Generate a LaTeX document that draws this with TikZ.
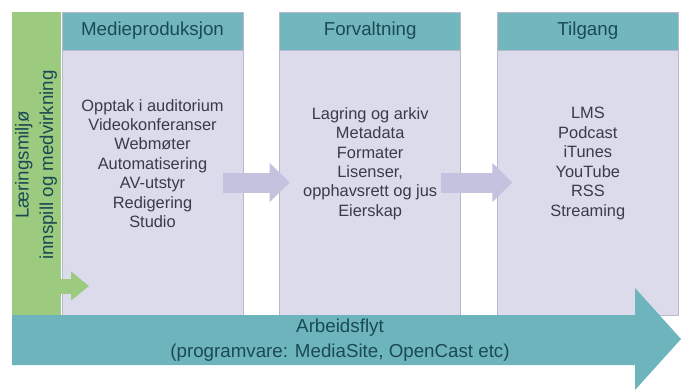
\documentclass[tikz,border=0pt]{standalone}
\usepackage{fontspec}
\setmainfont{Liberation Sans}
\usetikzlibrary{arrows.meta,positioning}
\definecolor{Leaf}{HTML}{9CCB80}
\definecolor{Head}{HTML}{72B7BD}
\definecolor{HeadInk}{HTML}{1B4A55}
\definecolor{Body}{HTML}{DCDBEB}
\definecolor{BodyLine}{HTML}{B9B8CC}
\definecolor{Flow}{HTML}{C4C2DF}
\definecolor{Stream}{HTML}{6DB4BC}
\definecolor{Ink}{HTML}{3A3A48}
\tikzset{
  headbox/.style={draw=BodyLine,fill=Head,minimum width=5.43cm,minimum height=1.14cm,inner sep=0pt,outer sep=0pt,text=HeadInk,font=\fontsize{16}{19}\selectfont},
  bodybox/.style={draw=BodyLine,fill=Body,minimum width=5.43cm,minimum height=7.95cm,inner sep=0pt,outer sep=0pt},
  bodytext/.style={align=center,text=Ink,font=\fontsize{14}{16.6}\selectfont},
  flowarr/.style={-{Triangle[length=0.6cm,width=1.14cm]},line width=0.6cm,draw=Flow},
  leafarr/.style={-{Triangle[length=0.54cm,width=0.84cm]},line width=0.45cm,draw=Leaf}
}
\begin{document}
\begin{tikzpicture}[x=0.03cm,y=-0.03cm]
  \useasboundingbox (0,0) rectangle (681,390);
  \node[fill=Leaf,minimum width=1.47cm,minimum height=9.09cm,inner sep=0pt,outer sep=0pt,anchor=north west] (leaf) at (12,12) {};
  \node[headbox,anchor=north west] (medhead) at (62,12) {Medieproduksjon};
  \node[bodybox,below=0pt of medhead] (medbody) {};
  \node[headbox,right=1.1cm of medhead] (forhead) {Forvaltning};
  \node[bodybox,below=0pt of forhead] (forbody) {};
  \node[headbox,right=1.1cm of forhead] (tilhead) {Tilgang};
  \node[bodybox,below=0pt of tilhead] (tilbody) {};
  \node[bodytext] (medtext) at ([yshift=0.57cm]medbody.center) {Opptak i auditorium\\Videokonferanser\\Webmøter\\Automatisering\\AV-utstyr\\Redigering\\Studio};
  \node[bodytext] (fortext) at ([yshift=0.57cm]forbody.center) {Lagring og arkiv\\Metadata\\Formater\\Lisenser,\\opphavsrett og jus\\Eierskap};
  \node[bodytext] (tiltext) at ([yshift=0.57cm]tilbody.center) {LMS\\Podcast\\iTunes\\YouTube\\RSS\\Streaming};
  \node[rotate=90,align=center,text=HeadInk,font=\fontsize{16}{21}\selectfont] (leaftext) at (36,165) {Læringsmiljø\\innspill og medvirkning};
  \coordinate (leaftip) at ([xshift=0.84cm,yshift=0.87cm]leaf.south east);
  \draw[leafarr] ([xshift=-2pt,yshift=0.87cm]leaf.south east) -- (leaftip);
  \draw[flowarr] ([xshift=-0.6cm]medbody.east) -- ([xshift=0.3cm]forbody.west);
  \draw[flowarr] ([xshift=-0.6cm]forbody.east) -- ([xshift=0.45cm]tilbody.west);
  \fill[Stream] (12,315) -- (635,315) -- (635,288) -- (681,339) -- (635,390) -- (635,365) -- (12,365) -- cycle;
  \node[align=center,text=HeadInk,font=\fontsize{16}{21}\selectfont] (flowtext) at (340,340) {Arbeidsflyt\\(programvare: MediaSite, OpenCast etc)};
\end{tikzpicture}
\end{document}
